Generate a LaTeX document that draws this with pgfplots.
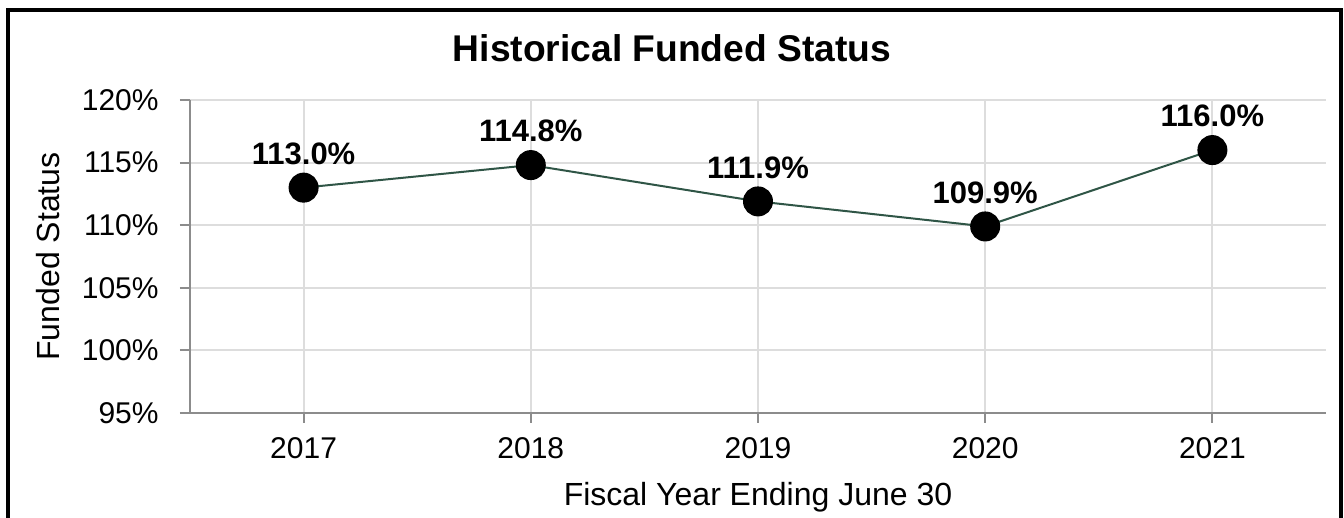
\documentclass[border=0pt]{standalone}
\usepackage{pgfplots}
\pgfplotsset{compat=1.18}
\usepackage{fontspec}
\setmainfont{Liberation Sans}
\definecolor{gridc}{HTML}{DDDDDD}
\definecolor{axisc}{HTML}{8C8C8C}
\definecolor{linec}{HTML}{2F5546}
\begin{document}
\begin{tikzpicture}
\useasboundingbox (0,0) rectangle (672pt,259pt);
\draw[line width=2pt] (3.75pt,-5pt) -- (3.75pt,253.85pt) -- (670.5pt,253.85pt) -- (670.5pt,-5pt);
\node[font=\fontsize{18.6}{22}\selectfont\bfseries] at (336pt,235pt) {Historical Funded Status};
\begin{axis}[
  at={(95pt,52.5pt)}, anchor=south west,
  scale only axis, width=568pt, height=156.5pt,
  xmin=-0.5, xmax=4.5, ymin=95, ymax=120,
  clip=false,
  xtick={0,...,4}, xticklabels={2017,2018,2019,2020,2021},
  ytick={95,100,...,120}, yticklabels={95\%,100\%,105\%,110\%,115\%,120\%},
  axis x line*=bottom, axis y line*=left,
  axis line style={draw=axisc, line width=1pt, -},
  tick style={draw=axisc, line width=1pt},
  tick align=outside, major tick length=5pt,
  grid=major, grid style={draw=gridc, line width=1pt},
  tick label style={font=\fontsize{15}{18}\selectfont},
  xticklabel style={anchor=north, inner sep=0pt, yshift=-7pt},
  yticklabel style={anchor=east, inner sep=0pt, xshift=-10.5pt},
  xlabel={Fiscal Year Ending June 30},
  xlabel style={at={(axis description cs:0.5,-0.27)}, anchor=center, font=\fontsize{16}{19}\selectfont},
  ylabel={Funded Status},
  ylabel style={at={(axis description cs:-0.125,0.5)}, anchor=center, font=\fontsize{16}{19}\selectfont},
]
\addplot[color=linec, line width=1pt, mark=*, mark size=7pt,
  mark options={fill=black, draw=black},
  nodes near coords={\pgfmathprintnumber[fixed,fixed zerofill,precision=1,assume math mode=true]{\pgfplotspointmeta}\%},
  every node near coord/.append style={font=\fontsize{15.5}{18}\selectfont\bfseries, text=black, anchor=south, inner sep=0pt, yshift=11pt}]
  table[row sep=\\] {x y\\ 0 113.0\\ 1 114.8\\ 2 111.9\\ 3 109.9\\ 4 116.0\\};
\end{axis}
\end{tikzpicture}
\end{document}
